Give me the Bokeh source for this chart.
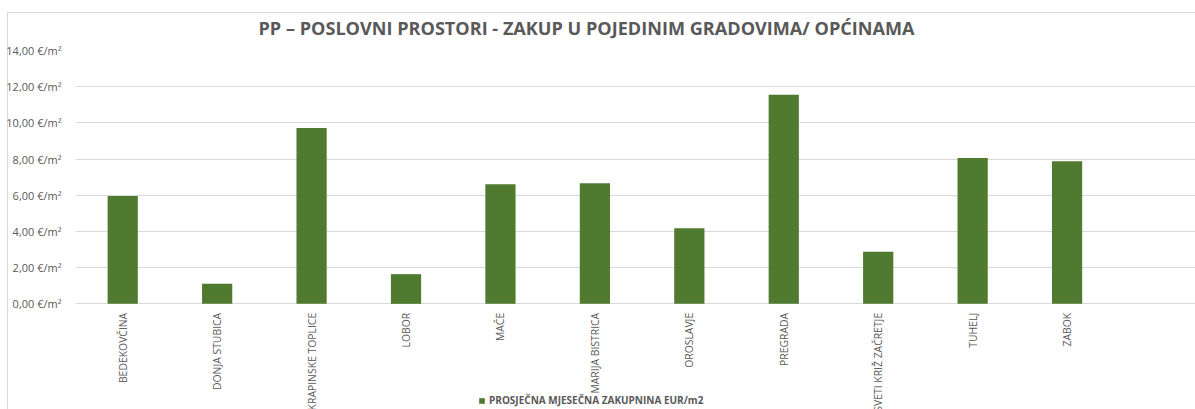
import math
from bokeh.plotting import figure
from bokeh.models import (FixedTicker, Legend, LegendItem, ColumnDataSource, Range1d)
from bokeh.core.properties import value
from bokeh.embed import file_html
from bokeh.resources import INLINE

categories = ["BEDEKOVČINA", "DONJA STUBICA", "KRAPINSKE TOPLICE", "LOBOR", "MAČE",
              "MARIJA BISTRICA", "OROSLAVJE", "PREGRADA", "SVETI KRIŽ ZAČRETJE",
              "TUHELJ", "ZABOK"]
values = [5.96, 1.11, 9.72, 1.64, 6.61, 6.66, 4.17, 11.56, 2.88, 8.06, 7.88]
y_ticks = [0, 2, 4, 6, 8, 10, 12, 14]
y_tick_labels = ["0,00 €/m²", "2,00 €/m²", "4,00 €/m²", "6,00 €/m²", "8,00 €/m²",
                 "10,00 €/m²", "12,00 €/m²", "14,00 €/m²"]
series_name = "PROSJEČNA MJESEČNA ZAKUPNINA EUR/m2"
title_text = "PP – POSLOVNI PROSTORI - ZAKUP U POJEDINIM GRADOVIMA/ OPĆINAMA"

GREY = "#595959"
GRID = "#d9d9d9"
BAR = "#507a30"
FONT = "Open Sans"

xpos = [i + 0.5 for i in range(len(categories))]
src = ColumnDataSource(dict(x=xpos, top=values, cat=categories,
                            base=[0] * len(categories)))

p = figure(width=1195, height=409, output_backend="svg", toolbar_location=None,
           x_range=Range1d(0, 11.86), y_range=Range1d(-5.84, 14),
           min_border_left=75, min_border_right=0, min_border_top=50,
           min_border_bottom=0)
p.outline_line_color = None
p.background_fill_alpha = 0
p.border_fill_alpha = 0
# chart-area frame (thin light grey line at left and top, like the Excel chart box)
p.styles = {
    "background-color": "white",
    "background-image": ("linear-gradient(#d9d9d9, #d9d9d9), "
                         "linear-gradient(#d9d9d9, #d9d9d9)"),
    "background-position": "7px 12px, 7px 12px",
    "background-size": "1px 100%, 100% 1px",
    "background-repeat": "no-repeat, no-repeat",
}

r = p.vbar(x="x", top="top", bottom="base", width=0.32, source=src,
           fill_color=BAR, line_color=None)

# category labels, hanging below the zero line, reading upwards
p.text(x="x", y="base", text="cat", source=src, angle=math.pi / 2,
       text_align="right", text_baseline="middle", y_offset=9,
       text_font=value(FONT), text_font_size="10.4px", text_color=GREY)

# title
p.title.text = title_text
p.title.align = "left"
p.title.offset = 183
p.title.text_font = FONT
p.title.text_font_size = "18.1px"
p.title.text_font_style = "bold"
p.title.text_color = GREY
p.title.standoff = 22

# y axis
p.yaxis.ticker = FixedTicker(ticks=y_ticks)
p.yaxis.major_label_overrides = {t: l for t, l in zip(y_ticks, y_tick_labels)}
p.yaxis.axis_line_color = None
p.yaxis.major_tick_line_color = None
p.yaxis.minor_tick_line_color = None
p.yaxis.major_label_text_font = FONT
p.yaxis.major_label_text_font_size = "11px"
p.yaxis.major_label_text_color = GREY
p.yaxis.major_label_standoff = 8

p.xaxis.visible = False
p.xgrid.grid_line_color = None
p.ygrid.ticker = FixedTicker(ticks=y_ticks)
p.ygrid.grid_line_color = GRID
p.ygrid.grid_line_width = 1

legend = Legend(items=[LegendItem(label=series_name, renderers=[r])],
                location=(403, 2), orientation="horizontal",
                background_fill_alpha=0, border_line_color=None,
                label_text_font=FONT, label_text_font_size="10px",
                label_text_font_style="bold", label_text_color=GREY,
                label_height=12, glyph_width=7, glyph_height=7,
                label_standoff=4, padding=0, margin=0)
p.add_layout(legend, "center")

open("out.html", "w").write(file_html(p, INLINE))
